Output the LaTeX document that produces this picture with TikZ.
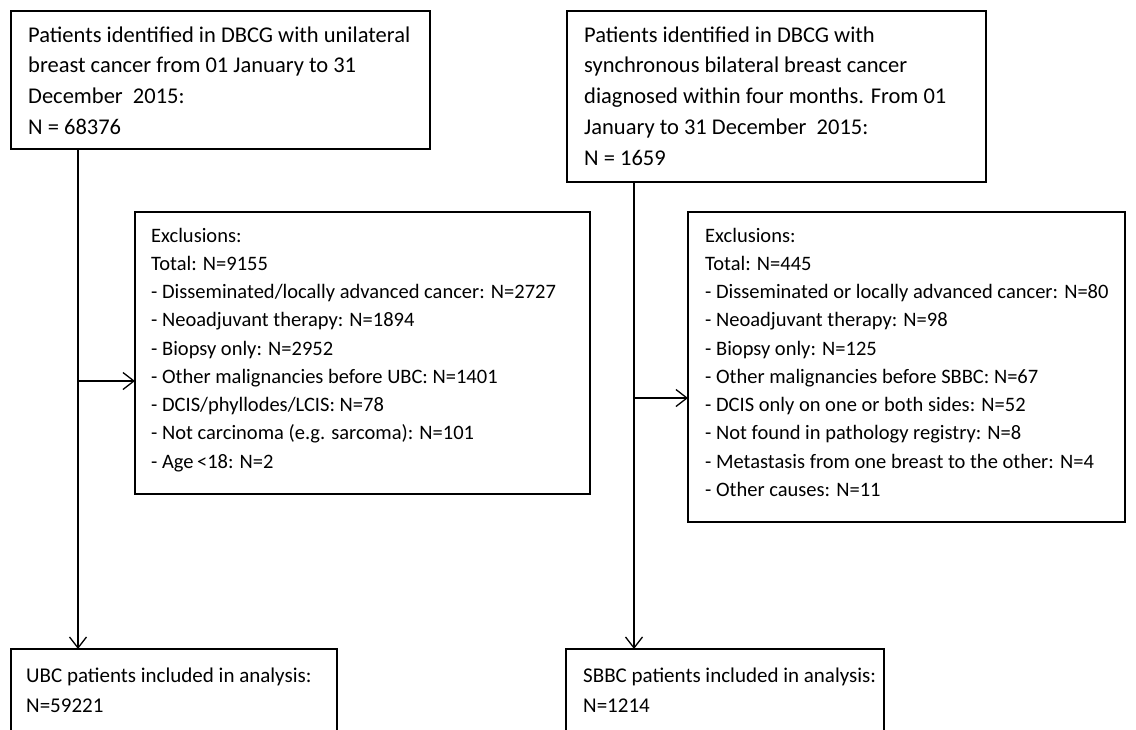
\documentclass[tikz,border=0pt]{standalone}
\usepackage{fontspec}
\setmainfont{Carlito}
\usetikzlibrary{arrows.meta}
\newcommand\mlines[1]{\vtop{\halign{##\hfil\cr#1\crcr}}}
\begin{document}
\begin{tikzpicture}[x=1pt,y=-1pt,
  box/.style={draw, line width=1.3pt, inner sep=0pt, outer sep=0pt, anchor=north west},
  toptxt/.style={anchor=base west, inner sep=0pt, font=\fontsize{22.5}{30.8}\selectfont},
  extxt/.style={anchor=base west, inner sep=0pt, font=\fontsize{20.5}{28.25}\selectfont},
  bottxt/.style={anchor=base west, inner sep=0pt, font=\fontsize{21}{30}\selectfont},
  arr/.style={line width=1.3pt, -{Straight Barb[length=11pt,width=17pt,line width=1.3pt]}}]
\clip (0,0) rectangle (1136,729);
\useasboundingbox (0,0) rectangle (1136,729);
% boxes
\node[box, minimum width=419pt, minimum height=138pt] (b1) at (11,11) {};
\node[box, minimum width=419pt, minimum height=171pt] (b2) at (567,11) {};
\node[box, minimum width=455pt, minimum height=282pt] (e1) at (135,212) {};
\node[box, minimum width=437pt, minimum height=310pt] (e2) at (688,212) {};
\node[box, minimum width=326pt, minimum height=100pt] (f1) at (11,649) {};
\node[box, minimum width=318pt, minimum height=100pt] (f2) at (566,649) {};
% texts
\node[toptxt] (t1) at (28,42) {\mlines{Patients identified in DBCG with unilateral\cr breast cancer from 01 January to 31\cr December\ \ 2015:\cr N = 68376}};
\node[toptxt] (t2) at (584,42) {\mlines{Patients identified in DBCG with\cr synchronous bilateral breast cancer\cr diagnosed within four months. From 01\cr January to 31 December\ \ 2015:\cr N = 1659}};
\node[extxt] (t3) at (151,242) {\mlines{Exclusions:\cr Total: N=9155\cr - Disseminated/locally advanced cancer: N=2727\cr - Neoadjuvant therapy: N=1894\cr - Biopsy only: N=2952\cr - Other malignancies before UBC: N=1401\cr - DCIS/phyllodes/LCIS: N=78\cr - Not carcinoma (e.g. sarcoma): N=101\cr - Age{\,}<18: N=2}};
\node[extxt] (t4) at (705,242) {\mlines{Exclusions:\cr Total: N=445\cr - Disseminated or locally advanced cancer: N=80\cr - Neoadjuvant therapy: N=98\cr - Biopsy only: N=125\cr - Other malignancies before SBBC: N=67\cr - DCIS only on one or both sides: N=52\cr - Not found in pathology registry: N=8\cr - Metastasis from one breast to the other: N=4\cr - Other causes: N=11}};
\node[bottxt] (t5) at (26,682) {\mlines{UBC patients included in analysis:\cr N=59221}};
\node[bottxt] (t6) at (583,682) {\mlines{SBBC patients included in analysis:\cr N=1214}};
% connectors
\coordinate (c1) at (78,381);
\coordinate (c2) at (634,398);
\draw[arr] (c1 |- b1.south) -- (c1 |- f1.north);
\draw[arr] (c1) -- (c1 -| e1.west);
\draw[arr] (c2 |- b2.south) -- (c2 |- f2.north);
\draw[arr] (c2) -- (c2 -| e2.west);
\end{tikzpicture}
\end{document}
